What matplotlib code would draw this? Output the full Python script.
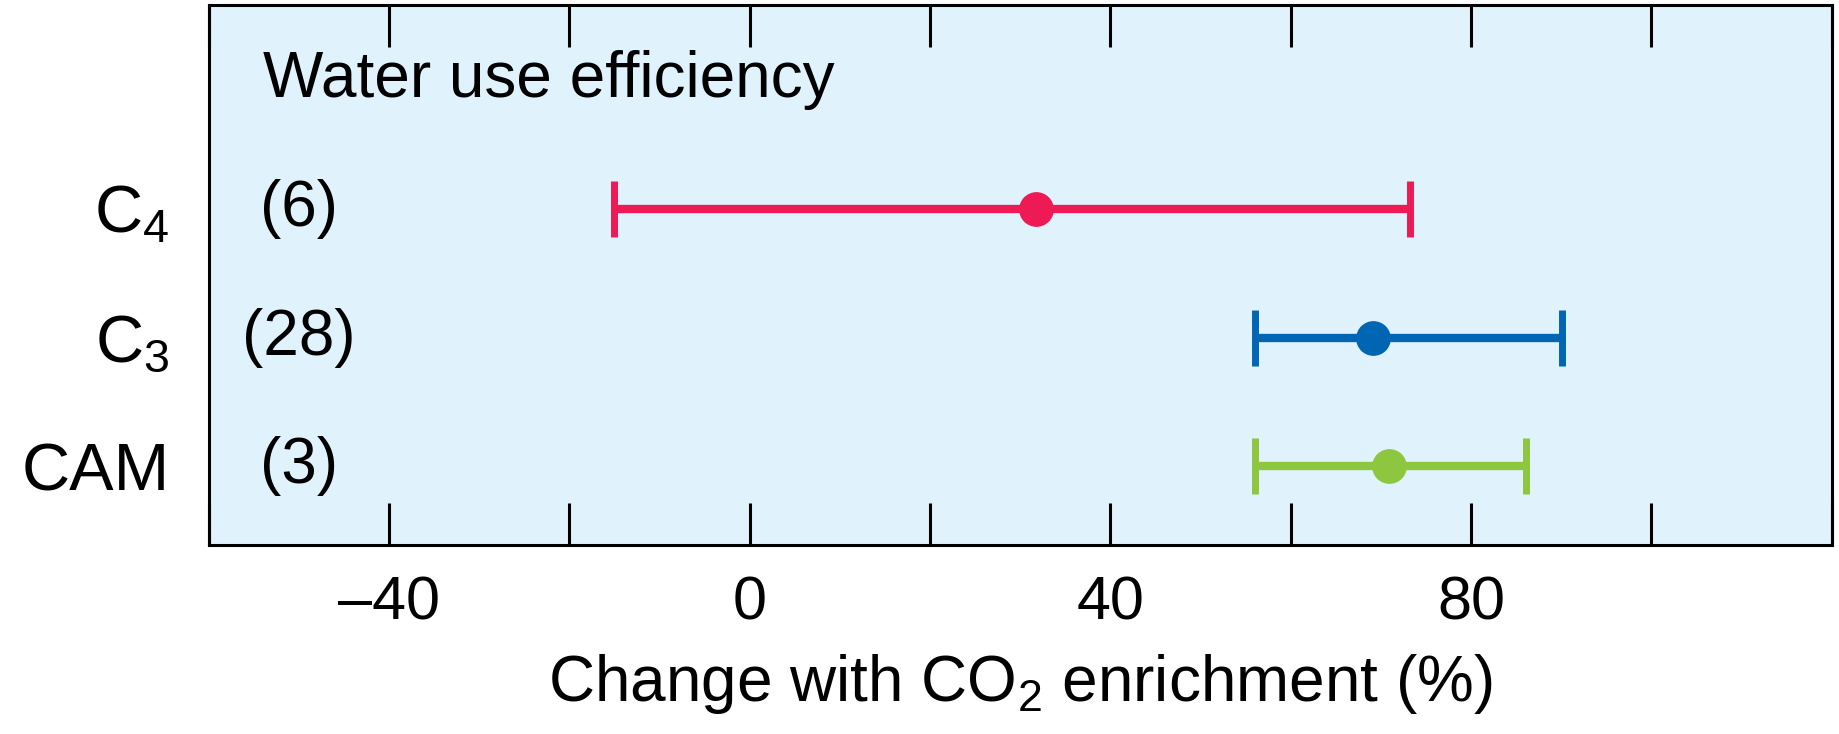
import matplotlib
matplotlib.use("Agg")
import matplotlib.pyplot as plt

plt.rcParams["font.family"] = ["Liberation Sans", "DejaVu Sans"]
plt.rcParams["mathtext.fontset"] = "custom"
plt.rcParams["mathtext.rm"] = "Liberation Sans"
plt.rcParams["mathtext.it"] = "Liberation Sans"
plt.rcParams["axes.unicode_minus"] = False

# data
groups = ["C$_\\mathrm{4}$", "C$_\\mathrm{3}$", "CAM"]
counts = ["(6)", "(28)", "(3)"]
means = [31.7, 69.1, 70.9]
lows = [-15.1, 56.0, 56.0]
highs = [73.2, 90.1, 86.1]
colors = ["#EE1A55", "#0066B3", "#8DC63F"]
ypos = [3, 2, 1]
xticks = [-60, -40, -20, 0, 20, 40, 60, 80, 100, 120]
xtick_labels = ["", "\u201340", "", "0", "", "40", "", "80", "", ""]

fig = plt.figure(figsize=(18.39, 7.34), dpi=100)
ax = fig.add_axes([0.1135, 0.2575, 0.8825, 0.7355])
ax.set_facecolor("#E0F3FD")

for y, m, lo, hi, c in zip(ypos, means, lows, highs, colors):
    ax.errorbar(
        m, y,
        xerr=[[m - lo], [hi - m]],
        fmt="o",
        color=c,
        markersize=24,
        elinewidth=6,
        capsize=20,
        capthick=5,
        zorder=3,
    )

for y, label in zip(ypos, counts):
    ax.text(-50, y, label, ha="center", va="center", fontsize=46)

ax.text(-54, 4.0, "Water use efficiency", ha="left", va="center", fontsize=46)

ax.set_xlim(-60, 120)
ax.set_ylim(0.39, 4.58)
ax.set_xticks(xticks, xtick_labels)
ax.set_yticks(ypos, groups)
ax.tick_params(axis="x", direction="in", top=True, bottom=True, length=30,
               width=2.2, labelsize=44, pad=22)
ax.tick_params(axis="y", length=0, labelsize=48, pad=28)
for s in ax.spines.values():
    s.set_linewidth(2.2)

ax.set_xlabel("Change with CO$_\\mathrm{2}$ enrichment (%)", fontsize=46, labelpad=14)

fig.savefig("out.png", dpi=100)
